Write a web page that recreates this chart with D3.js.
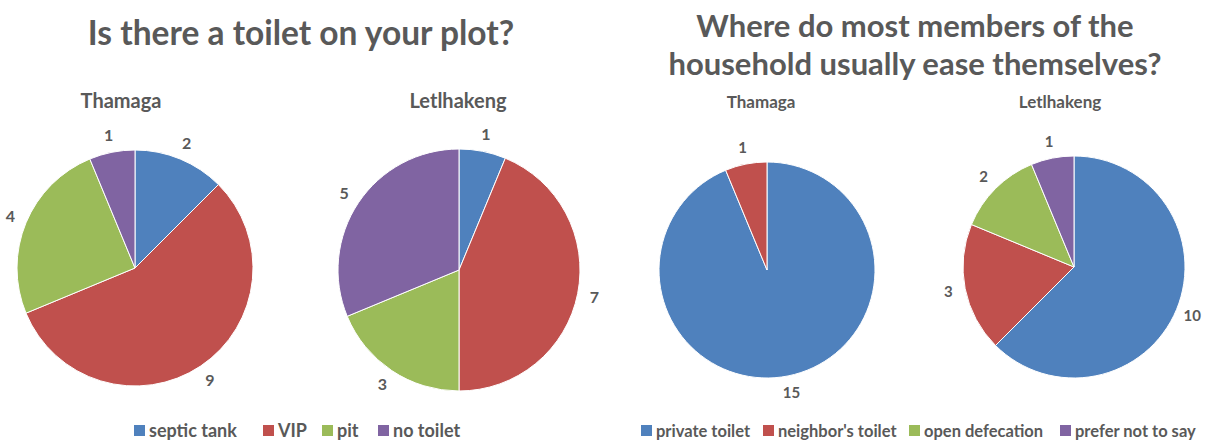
<!DOCTYPE html>
<html>
<head>
<meta charset="utf-8">
<script src="https://cdn.jsdelivr.net/npm/d3@7"></script>
<style>
  body { margin: 0; background: #fff; }
  svg text { font-family: Lato, "Open Sans", sans-serif; font-weight: bold; fill: #595959; }
</style>
</head>
<body>
<svg id="chart" width="1206" height="443"></svg>
<script>
// toilet on plot
const plotCategories = ['septic tank', 'VIP', 'pit', 'no toilet'];
const plotThamaga = [2, 9, 4, 1];
const plotLetlhakeng = [1, 7, 3, 5];

// where household members ease themselves
const easeCategories = ['private toilet', "neighbor's toilet", 'open defecation', 'prefer not to say'];
const easeThamaga = [15, 1, 0, 0];
const easeLetlhakeng = [10, 3, 2, 1];

const colors = ['#4F81BD', '#C0504D', '#9BBB59', '#8064A2'];

const svg = d3.select('#chart');
const color = d3.scaleOrdinal().domain([0, 1, 2, 3]).range(colors);

function drawPie(values, cx, cy, r, name, nameX, nameY, nameSize, labelSize) {
    const g = svg.append('g').attr('transform', `translate(${cx},${cy})`);
    const pie = d3.pie().sort(null).value(d => d.v);
    const arcs = pie(values.map((v, i) => ({v, i}))).filter(a => a.data.v > 0);
    const arc = d3.arc().innerRadius(0).outerRadius(r);
    const labelArc = d3.arc().innerRadius(r + 17).outerRadius(r + 17);

    g.selectAll('path')
        .data(arcs)
        .enter().append('path')
        .attr('d', arc)
        .attr('fill', d => color(d.data.i))
        .attr('stroke', '#fff')
        .attr('stroke-width', 1);

    g.selectAll('text.lbl')
        .data(arcs)
        .enter().append('text')
        .attr('class', 'lbl')
        .attr('transform', d => `translate(${labelArc.centroid(d)})`)
        .attr('text-anchor', 'middle')
        .attr('dy', '0.35em')
        .style('font-size', `${labelSize}px`)
        .text(d => d.data.v);

    svg.append('text')
        .attr('x', nameX)
        .attr('y', nameY)
        .attr('text-anchor', 'middle')
        .style('font-size', `${nameSize}px`)
        .text(name);
}

function drawLegend(cats, xs, y, size, box) {
    const g = svg.append('g');
    cats.forEach((c, i) => {
        g.append('rect')
            .attr('x', xs[i]).attr('y', y - box - 1)
            .attr('width', box).attr('height', box)
            .attr('fill', colors[i]);
        g.append('text')
            .attr('x', xs[i] + box + 4)
            .attr('y', y)
            .style('font-size', `${size}px`)
            .text(c);
    });
}

// left panel
svg.append('text')
    .attr('x', 301).attr('y', 45)
    .attr('text-anchor', 'middle')
    .style('font-size', '33.5px')
    .text('Is there a toilet on your plot?');

drawPie(plotThamaga, 135, 268, 118, 'Thamaga', 121, 108, 20, 16);
drawPie(plotLetlhakeng, 459, 270, 121, 'Letlhakeng', 458, 108, 20, 16);
drawLegend(plotCategories, [134, 263, 322, 378], 437, 18, 11);

// right panel
const rt = svg.append('text')
    .attr('text-anchor', 'middle')
    .style('font-size', '31px');
rt.append('tspan').attr('x', 915).attr('y', 37).text('Where do most members of the');
rt.append('tspan').attr('x', 915).attr('y', 75).text('household usually ease themselves?');

drawPie(easeThamaga, 767, 270, 108, 'Thamaga', 761, 108, 17, 15);
drawPie(easeLetlhakeng, 1074, 267, 111, 'Letlhakeng', 1060, 108, 17, 15);
drawLegend(easeCategories, [641, 763, 909, 1060], 437, 16.5, 11);
</script>
</body>
</html>
